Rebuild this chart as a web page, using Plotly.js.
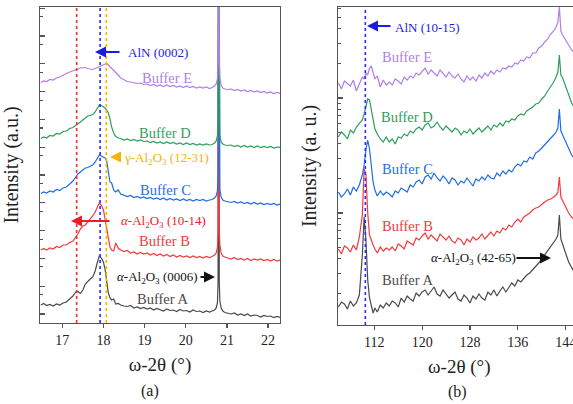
<!DOCTYPE html>
<html>
<head>
<meta charset="utf-8">
<script src="https://cdn.plot.ly/plotly-3.0.1.min.js"></script>
<style>
html,body{margin:0;padding:0;overflow:hidden;background:#fff;width:573px;height:404px;}
#chart{width:600px;height:404px;}
</style>
</head>
<body>
<div id="chart"></div>
<script>
// ---------- Panel (a): ω-2θ near 17-22° ----------
const xL = [
16.48, 16.55, 16.62, 16.7, 16.78, 16.86, 16.94, 17.02,
17.1, 17.18, 17.26, 17.33, 17.38, 17.44, 17.5, 17.56,
17.62, 17.68, 17.74, 17.8, 17.85, 17.9, 17.95, 18.0,
18.04, 18.08, 18.12, 18.16, 18.2, 18.25, 18.3, 18.36,
18.42, 18.5, 18.58, 18.66, 18.74, 18.82, 18.9, 18.98,
19.06, 19.14, 19.22, 19.3, 19.38, 19.46, 19.54, 19.62,
19.7, 19.78, 19.86, 19.94, 20.02, 20.1, 20.18, 20.26,
20.34, 20.42, 20.5, 20.58, 20.64, 20.7, 20.74, 20.77,
20.785, 20.8, 20.815, 20.83, 20.86, 20.9, 20.95, 21.02,
21.1, 21.18, 21.26, 21.34, 21.42, 21.5, 21.58, 21.66,
21.74, 21.82, 21.9, 21.98, 22.06, 22.14, 22.22, 22.3];

const aBufA = [
18, 19.5, 17.5, 18.5, 17, 19, 18, 20,
21, 24, 27, 31, 31.5, 29.5, 33, 39,
42, 44, 46, 52, 60, 67, 65, 61,
54, 43, 30, 25, 23, 24, 19, 19.5,
18, 17, 16.5, 17.5, 15, 16, 14.5, 15.5,
14, 15, 13, 14.5, 13.5, 12, 14, 12.5,
13, 11.5, 13.5, 12, 12.5, 11, 13, 11.5,
12, 10.5, 12, 11, 12, 13, 15, 20,
40, 420, 40, 22, 15, 12, 10.5, 10,
9, 10, 8, 9, 7.5, 9, 7, 8,
7.5, 6, 7.5, 6.5, 7, 5.5, 6.5, 5.5];

const aBufB = [
73, 74.5, 73, 75, 74, 76.5, 75.5, 78,
78, 80.5, 82, 86, 89, 94, 97, 98,
101, 103, 107, 111, 116, 120, 118, 113,
104, 93, 83, 76, 73, 72, 80, 75,
73, 71.5, 72.5, 70, 71, 69, 70.5, 69,
70, 68, 69.5, 67.5, 69, 67, 68.5, 66.5,
68, 66, 67.5, 66, 67, 65.5, 67, 65.5,
66.5, 65, 66.5, 65.5, 66.5, 68, 70, 75,
90, 420, 95, 78, 70, 67, 66, 65,
64, 65.5, 63.5, 64.5, 63, 64.5, 62.5, 64,
63, 64, 62.5, 63.5, 62, 63.5, 62, 63];

const aBufC = [
129.5, 131, 130, 132, 131, 133.5, 132.5, 135,
136, 139, 142, 146, 149, 151, 153.5, 155,
155.5, 157, 158, 161, 165, 168, 167, 166,
165, 162, 152, 141, 140, 133, 131, 133,
129, 128, 126.5, 127.5, 125.5, 126.5, 125, 126,
124.5, 125.5, 124, 125, 123.5, 125, 123, 124.5,
123, 124, 122.5, 124, 122.5, 123.5, 122, 123.5,
122.5, 123.5, 122, 123, 123.5, 125, 127, 132,
150, 420, 150, 133, 126, 123, 122, 121,
120.5, 121.5, 120, 121, 119.5, 120.5, 119, 120.5,
119, 120, 118.5, 119.5, 118.5, 119.5, 118, 119];

const aBufD = [
184.5, 186, 185, 187.5, 187, 189.5, 189, 191.5,
192, 194.5, 195.5, 198, 199.5, 201, 203, 205,
207, 207.5, 208.5, 211, 214, 218, 217.5, 216.5,
215, 213, 210, 204, 196, 190, 186.5, 185,
184.5, 183, 184, 182.5, 183.5, 182, 183, 181.5,
182, 180.5, 181.5, 180, 181, 179.5, 181, 179.5,
180.5, 179, 180, 178.5, 180, 178.5, 179.5, 178,
179, 178, 179, 178, 178.5, 180, 182, 187,
205, 420, 205, 188, 181, 179, 178, 177.5,
178, 176.5, 177.5, 176, 177.5, 176, 177, 175.5,
177, 175.5, 176.5, 175.5, 176.5, 175, 176, 175.5];

const aBufE = [
240.5, 242, 241.5, 243.5, 243, 245, 246, 248,
249.5, 251, 252.5, 253.5, 254, 255, 255.5, 255.5,
254.5, 254, 253.5, 254.5, 255.5, 256, 257, 258.5,
259.5, 259.5, 258, 256.5, 255, 253, 251, 248,
245, 243, 241.5, 241, 240.5, 239.5, 240, 238.5,
239, 237.5, 238.5, 237, 238, 236.5, 238, 236.5,
237.5, 236, 237, 235.5, 237, 235.5, 236.5, 235,
236, 235, 236, 234.5, 235.5, 237, 239, 244,
262, 420, 262, 245, 238, 235, 234, 233.5,
234, 232.5, 233.5, 232, 233, 231.5, 232.5, 231,
232, 230.5, 231.5, 230, 231, 229.5, 230.5, 229.5];

// ---------- Panel (b): ω-2θ near 106-146° ----------
const xR = [
106.0, 106.5, 107.0, 107.5, 108.0, 108.5, 109.0, 109.5, 110.0, 110.3,
110.6, 110.9, 111.2, 111.5, 111.8, 112.1, 112.5, 113.0, 113.5, 114.0,
114.5, 115.0, 115.5, 116.0, 116.5, 117.0, 117.5, 118.0, 118.5, 119.0,
119.5, 120.0, 120.5, 121.0, 121.5, 122.0, 122.5, 123.0, 123.5, 124.0,
124.5, 125.0, 125.5, 126.0, 126.5, 127.0, 127.5, 128.0, 128.5, 129.0,
129.5, 130.0, 130.5, 131.0, 131.5, 132.0, 132.5, 133.0, 133.5, 134.0,
134.5, 135.0, 135.5, 136.0, 136.5, 137.0, 137.5, 138.0, 138.5, 139.0,
139.5, 140.0, 140.5, 141.0, 141.5, 142.0, 142.4, 142.7, 142.95, 143.2,
143.5, 143.8, 144.1, 144.5, 145.0, 145.5, 146.0, 146.5, 147.0, 147.5];

const bBufA = [
18, 23, 21, 16, 24, 19, 22, 30, 70, 108,
85, 45, 27, 18, 12, 17, 13, 20, 17, 22,
19, 24, 22, 18, 27, 23, 29, 26, 24, 32,
29, 33, 35, 30, 34, 38, 31, 29, 35, 31,
27, 30, 33, 26, 24, 30, 27, 22, 29, 26,
31, 27, 25, 33, 30, 35, 29, 34, 38, 33,
37, 42, 39, 45, 43, 47, 50, 52, 55, 58,
62, 66, 70, 74, 78, 82, 86, 90, 110, 86,
80, 75, 70, 63, 57, 52, 48, 45, 43, 42];

const bBufB = [
76, 71, 79, 77, 73, 80, 75, 88, 110, 156,
150, 112, 90, 84, 80, 76, 72, 78, 74, 77,
75, 78, 74, 81, 79, 76, 84, 82, 80, 87,
85, 89, 92, 86, 90, 87, 84, 91, 88, 85,
89, 84, 82, 87, 85, 80, 86, 83, 88, 85,
87, 91, 86, 90, 93, 89, 94, 92, 97, 95,
100, 98, 103, 106, 103, 108, 110, 112, 115, 117,
118, 121, 123, 125, 126, 128, 130, 133, 148, 128,
124, 120, 116, 112, 108, 105, 103, 101, 100, 99];

const bBufC = [
133, 128, 131, 136, 130, 138, 134, 140, 150, 160,
175, 185, 176, 160, 143, 135, 129, 134, 130, 133,
131, 128, 134, 132, 137, 135, 133, 140, 138, 143,
145, 141, 148, 150, 146, 152, 147, 144, 149, 146,
141, 147, 145, 140, 144, 142, 147, 143, 139, 146,
144, 148, 145, 150, 147, 146, 152, 149, 154, 151,
155, 153, 158, 161, 159, 164, 163, 168, 166, 172,
174, 177, 180, 184, 187, 190, 193, 197, 216, 194,
190, 186, 181, 176, 170, 166, 163, 161, 159, 158];

const bBufD = [
188, 193, 190, 186, 195, 192, 198, 201, 205, 211,
219, 226, 225, 215, 203, 196, 191, 186, 183, 188,
183, 186, 181, 188, 187, 191, 189, 194, 192, 196,
198, 195, 200, 202, 197, 199, 203, 198, 195, 199,
196, 193, 197, 195, 190, 194, 192, 196, 191, 194,
197, 193, 196, 199, 195, 200, 198, 202, 199, 204,
203, 206, 205, 209, 211, 210, 214, 216, 218, 221,
222, 226, 229, 234, 238, 243, 248, 253, 270, 250,
247, 242, 236, 230, 222, 217, 214, 211, 209, 208];

const bBufE = [
242, 236, 244, 241, 239, 245, 234, 241, 248, 246,
252, 250, 257, 259, 251, 246, 249, 238, 245, 240,
243, 240, 246, 244, 241, 248, 245, 249, 247, 252,
250, 254, 257, 251, 255, 252, 249, 255, 251, 248,
253, 249, 247, 251, 246, 243, 249, 245, 248, 244,
250, 247, 252, 249, 254, 251, 255, 253, 257, 256,
259, 258, 262, 261, 265, 264, 268, 267, 272, 272,
277, 279, 283, 286, 291, 294, 298, 303, 318, 294,
290, 287, 283, 280, 275, 272, 269, 267, 265, 264];

const seriesNames = ['Buffer A', 'Buffer B', 'Buffer C', 'Buffer D', 'Buffer E'];
const seriesColors = ['#4a4a4a', '#f23a3e', '#1f6de6', '#2e9e5b', '#b27fe2'];
const leftSeries = [aBufA, aBufB, aBufC, aBufD, aBufE];
const rightSeries = [bBufA, bBufB, bBufC, bBufD, bBufE];

const FONT = 'Liberation Serif, Times New Roman, serif';
const W = 600, H = 404;

const traces = [];
leftSeries.forEach((ys, i) => traces.push({
  x: xL, y: ys, xaxis: 'x', yaxis: 'y', type: 'scatter', mode: 'lines',
  name: seriesNames[i], showlegend: false,
  line: {color: seriesColors[i], width: 1.2}
}));
rightSeries.forEach((ys, i) => traces.push({
  x: xR, y: ys, xaxis: 'x2', yaxis: 'y2', type: 'scatter', mode: 'lines',
  name: seriesNames[i], showlegend: false,
  line: {color: seriesColors[i], width: 1.2}
}));

// log-style tick positions on panel (b)
const decadeBase = [-3, 112, 227];
const majR = [], minR = [];
decadeBase.forEach(b => {
  for (let k = 1; k <= 9; k++) {
    const v = b + 115 * Math.log10(k);
    if (v < 0 || v > 318) continue;
    (k === 1 ? majR : minR).push(v);
  }
});

function P(px, py) { return {x: px / W, y: 1 - py / H}; }
function label(text, px, py, color, size, extra) {
  const p = P(px, py);
  return Object.assign({xref: 'paper', yref: 'paper', x: p.x, y: p.y, text: text,
    showarrow: false, xanchor: 'center', yanchor: 'middle',
    font: {family: FONT, size: size, color: color}}, extra || {});
}
function arrow(hx, hy, tx, color) {
  const p = P(hx, hy);
  return {xref: 'paper', yref: 'paper', x: p.x, y: p.y, text: '', showarrow: true,
    ax: tx - hx, ay: 0, arrowhead: 2, arrowsize: 1, arrowwidth: 2.2, arrowcolor: color, standoff: 0};
}

const blueTxt = '#1c1ce0', orangeTxt = '#f5b400', redTxt = '#ee1c25';
const alpha = '<i>α</i>-Al<sub>2</sub>O<sub>3</sub>';
const annotations = [
  label('AlN (0002)', 158, 52, blueTxt, 13),
  arrow(95, 52, 121, blueTxt),
  label('Buffer E', 167, 78, seriesColors[4], 14.5),
  label('Buffer D', 165, 133, seriesColors[3], 14.5),
  label('γ-Al<sub>2</sub>O<sub>3</sub> (12-31)', 166, 158, orangeTxt, 13),
  arrow(110, 157, 119, orangeTxt),
  label('Buffer C', 165, 190, seriesColors[2], 14.5),
  label(alpha + ' (10-14)', 163, 221, redTxt, 13),
  arrow(71, 221, 111, redTxt),
  label('Buffer B', 164, 241, seriesColors[1], 14.5),
  label(alpha + ' (0006)', 158, 277, '#111', 13),
  arrow(215, 277, 199, '#111'),
  label('Buffer A', 162, 299, seriesColors[0], 14.5),
  label('(a)', 150, 391, '#222', 16),

  label('AlN (10-15)', 427, 27, blueTxt, 13),
  arrow(367, 26, 392, blueTxt),
  label('Buffer E', 407, 57, seriesColors[4], 14.5),
  label('Buffer D', 407, 117, seriesColors[3], 14.5),
  label('Buffer C', 407, 169, seriesColors[2], 14.5),
  label('Buffer B', 407, 226, seriesColors[1], 14.5),
  label(alpha + ' (42-65)', 473, 258, '#111', 13),
  arrow(551, 258, 515, '#111'),
  label('Buffer A', 407, 280, seriesColors[0], 14.5),
  label('(b)', 457, 392, '#222', 16)
];

const refLinesA = [17.35, 17.92, 18.07];
const refColorsA = ['#ff2a2a', '#2a2aff', '#ffb300'];
const refLinesB = [110.5];
const shapes = [];
refLinesA.forEach((v, i) => shapes.push({type: 'line', xref: 'x', yref: 'y domain',
  x0: v, x1: v, y0: 0, y1: 1, line: {color: refColorsA[i], width: 1.6, dash: 'dot'}}));
refLinesB.forEach(v => shapes.push({type: 'line', xref: 'x2', yref: 'y2 domain',
  x0: v, x1: v, y0: 0, y1: 1, line: {color: '#2a2aff', width: 1.6, dash: 'dot'}}));

const axCommon = {showgrid: false, zeroline: false, showline: true, mirror: true,
  linecolor: '#555', linewidth: 1.3, tickcolor: '#555', tickwidth: 1.2,
  tickfont: {family: FONT, size: 14, color: '#222'}};

const layout = {
  width: W, height: H,
  margin: {l: 0, r: 0, t: 0, b: 0},
  paper_bgcolor: '#fff', plot_bgcolor: '#fff',
  font: {family: FONT, color: '#222'},
  showlegend: false,
  xaxis: Object.assign({}, axCommon, {
    domain: [40 / W, 280 / W], range: [16.46, 22.29], anchor: 'y',
    tickmode: 'linear', tick0: 17, dtick: 1, ticks: 'outside', ticklen: 4,
    title: {text: 'ω-2θ (°)', font: {family: FONT, size: 19, color: '#222'}, standoff: 10}
  }),
  yaxis: Object.assign({}, axCommon, {
    domain: [81 / H, 397 / H], range: [0, 316], anchor: 'x',
    showticklabels: false, ticks: 'inside', ticklen: 5,
    tickmode: 'linear', tick0: 9, dtick: 27.8,
    minor: {ticks: 'inside', ticklen: 3, tickmode: 'linear', tick0: 0.5, dtick: 27.8, tickcolor: '#555', showgrid: false},
    title: {text: 'Intensity (a.u.)', font: {family: FONT, size: 20, color: '#222'}, standoff: 18}
  }),
  xaxis2: Object.assign({}, axCommon, {
    domain: [338 / W, 580.6 / W], range: [105.93, 146.5], anchor: 'y2',
    tickmode: 'linear', tick0: 112, dtick: 8, ticks: 'outside', ticklen: 4,
    title: {text: 'ω-2θ (°)', font: {family: FONT, size: 19, color: '#222'}, standoff: 10}
  }),
  yaxis2: Object.assign({}, axCommon, {
    domain: [79 / H, 397 / H], range: [0, 318], anchor: 'x2',
    showticklabels: false, ticks: 'inside', ticklen: 5,
    tickmode: 'array', tickvals: majR,
    minor: {ticks: 'inside', ticklen: 3, tickmode: 'array', tickvals: minR, tickcolor: '#555', showgrid: false},
    title: {text: 'Intensity (a. u.)', font: {family: FONT, size: 20, color: '#222'}, standoff: 14}
  }),
  shapes: shapes,
  annotations: annotations
};

Plotly.newPlot('chart', traces, layout, {displayModeBar: false, staticPlot: true});
</script>
</body>
</html>
